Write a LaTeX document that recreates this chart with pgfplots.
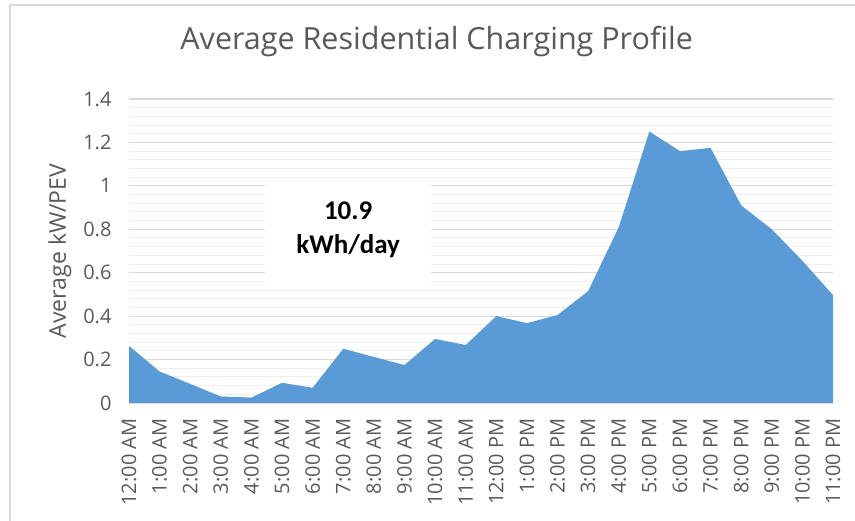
\documentclass[border=0pt]{standalone}
\usepackage{pgfplots}
\pgfplotsset{compat=1.18}
\usepackage{fontspec}
\setmainfont{Open Sans}
\newfontfamily\calibri{Carlito}
\definecolor{areablue}{HTML}{5B9BD5}
\definecolor{txtgray}{HTML}{595959}
\definecolor{gridmaj}{HTML}{D9D9D9}
\definecolor{gridmin}{HTML}{EFEFEF}
\definecolor{framegray}{HTML}{D9D9D9}
\begin{document}
\begin{tikzpicture}
\useasboundingbox (0pt,0pt) rectangle (855pt,521pt);
\draw[framegray,line width=1.5pt] (10pt,0pt) -- (10pt,516pt) -- (855pt,516pt);
\begin{axis}[
  at={(129pt,118pt)}, anchor=south west,
  scale only axis, width=704pt, height=304pt,
  xmin=0, xmax=23, ymin=0, ymax=1.4,
  axis line style={draw=none},
  xtick={0,...,23},
  xticklabels={12:00 AM,1:00 AM,2:00 AM,3:00 AM,4:00 AM,5:00 AM,6:00 AM,7:00 AM,8:00 AM,9:00 AM,10:00 AM,11:00 AM,12:00 PM,1:00 PM,2:00 PM,3:00 PM,4:00 PM,5:00 PM,6:00 PM,7:00 PM,8:00 PM,9:00 PM,10:00 PM,11:00 PM},
  ytick={0,0.2,0.4,0.6,0.8,1,1.2,1.4},
  yticklabels={0,0.2,0.4,0.6,0.8,1,1.2,1.4},
  minor y tick num=4,
  ymajorgrids, yminorgrids,
  major grid style={gridmaj, line width=1.2pt},
  minor grid style={gridmin, line width=1pt},
  major tick length=0pt, minor tick length=0pt,
  tick label style={font=\fontsize{20}{22}\selectfont, text=txtgray},
  xticklabel style={rotate=90, anchor=east},
  xtick pos=bottom, ytick pos=left,
  xticklabel shift=12pt,
  yticklabel shift=14pt,
  ylabel={Average kW/PEV},
  ylabel style={at={(axis description cs:-0.098,0.5)}, anchor=center, rotate=0, font=\fontsize{23}{25}\selectfont, text=txtgray},
  title={Average Residential Charging Profile},
  title style={at={(axis description cs:0.437,1.171)}, anchor=center, font=\fontsize{30.5}{33}\selectfont, text=txtgray},
  clip=false,
]
\addplot[fill=areablue, draw=none] coordinates {
 (0,0.263) (1,0.145) (2,0.088) (3,0.030) (4,0.025) (5,0.093) (6,0.070)
 (7,0.250) (8,0.212) (9,0.175) (10,0.295) (11,0.267) (12,0.400) (13,0.368)
 (14,0.405) (15,0.515) (16,0.810) (17,1.250) (18,1.160) (19,1.175)
 (20,0.910) (21,0.800) (22,0.655) (23,0.497)
} \closedcycle;
\node[fill=white, minimum width=166pt, minimum height=104pt, align=center, font=\calibri\fontsize{27}{34}\selectfont\bfseries] at (axis cs:7.16,0.797) {10.9\\kWh/day};
\end{axis}
\end{tikzpicture}
\end{document}
